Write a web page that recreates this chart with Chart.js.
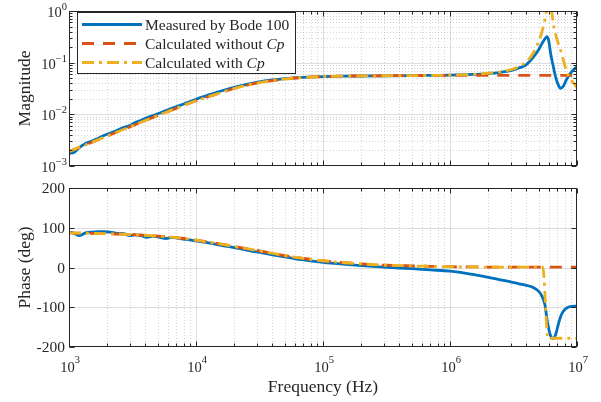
<!DOCTYPE html>
<html>
<head>
<meta charset="utf-8">
<script src="https://cdn.jsdelivr.net/npm/chart.js@4.4.0/dist/chart.umd.min.js"></script>
<style>
html, body { margin: 0; padding: 0; background: #fff; }
#wrap { position: relative; width: 601px; height: 402px; }
#magBox { position: absolute; left: 0; top: 0; }
#phBox { position: absolute; left: 0; top: 178px; }
</style>
</head>
<body>
<div id="wrap">
  <div id="magBox"><canvas id="mag" width="601" height="178"></canvas></div>
  <div id="phBox"><canvas id="ph" width="601" height="224"></canvas></div>
</div>
<script>
// measured (Bode 100)
var freqMeas = [1000, 1100, 1200, 1350, 1500, 1700, 1900, 2100, 2400, 2700, 3000, 3300, 3700, 4100, 4600, 5200, 5800, 6500, 7300, 8200, 9200,
    1e4, 1.2e4, 1.4e4, 1.7e4, 2e4, 2.5e4, 3e4, 4e4, 5e4, 7e4, 1e5, 1.5e5, 2e5, 3e5, 5e5, 7e5, 1e6, 1.5e6, 2e6, 2.5e6, 3e6, 3.5e6, 4e6,
    4.5e6, 5e6, 5.3e6, 5.6e6, 5.8e6, 6e6, 6.2e6, 6.5e6, 6.8e6, 7.1e6, 7.4e6, 7.8e6, 8.3e6, 9e6, 1e7];
var magMeas = [0.00175, 0.00185, 0.00225, 0.00272, 0.00300, 0.00345, 0.00395, 0.00430, 0.00492, 0.00560, 0.00605, 0.00690, 0.00765, 0.00860,
    0.00950, 0.01060, 0.01180, 0.01320, 0.01460, 0.01620, 0.01800, 0.01960, 0.02280, 0.02590, 0.02990, 0.03340, 0.03800, 0.04150, 0.04620,
    0.04900, 0.05200, 0.05380, 0.05480, 0.05520, 0.05560, 0.05620, 0.05680, 0.05750, 0.05920, 0.06150, 0.06500, 0.07000, 0.07900, 0.09200,
    0.125, 0.180, 0.235, 0.290, 0.320, 0.260, 0.150, 0.085, 0.052, 0.038, 0.032, 0.035, 0.048, 0.065, 0.084];
var phaseMeas = [89, 86, 80, 87, 89, 90, 90, 89, 86, 85, 80, 82, 80, 76, 79, 76, 73, 76, 73, 71, 69,
    67, 63, 59, 54, 50, 44, 39, 32, 27, 19, 13, 8, 5, 1, -3, -6, -9, -17, -25, -31, -36, -41, -45,
    -50, -60, -72, -95, -130, -155, -172, -179, -168, -145, -125, -110, -102, -98, -97];

// calculated models
var freqCalc = [1000, 1500, 2000, 3000, 5000, 7000, 1e4, 1.5e4, 2e4, 3e4, 5e4, 7e4, 1e5, 1.5e5, 2e5, 3e5, 5e5, 7e5, 1e6, 1.5e6,
    2e6, 2.5e6, 3e6, 3.5e6, 4e6, 4.5e6, 5e6, 5.2e6, 5.4e6, 5.5e6, 5.6e6, 5.8e6, 5.9e6, 6e6, 6.1e6, 6.3e6, 6.6e6, 7e6, 7.4e6, 8e6, 8.5e6, 9e6, 1e7];
var magNoCp = [0.0019, 0.00285, 0.0038, 0.0057, 0.0095, 0.0131, 0.0183, 0.0253, 0.0316, 0.0400, 0.0482, 0.0517, 0.0538, 0.0550, 0.0555,
    0.0558, 0.0562, 0.0565, 0.0567, 0.0568, 0.0569, 0.057, 0.057, 0.057, 0.057, 0.057, 0.057, 0.057, 0.057, 0.057, 0.057, 0.057, 0.057,
    0.057, 0.057, 0.057, 0.057, 0.057, 0.057, 0.057, 0.057, 0.057, 0.057];
var magCp = [0.0019, 0.00285, 0.0038, 0.0057, 0.0095, 0.0131, 0.0183, 0.0253, 0.0316, 0.0400, 0.0482, 0.0517, 0.0538, 0.0550, 0.0555,
    0.0558, 0.0562, 0.0566, 0.0572, 0.0590, 0.0625, 0.0665, 0.0730, 0.0850, 0.1050, 0.1500, 0.26, 0.34, 0.47, 0.56, 0.70, 1.2, 2.0, 3.0,
    2.6, 1.1, 0.47, 0.27, 0.18, 0.09, 0.058, 0.046, 0.033];
var phaseNoCp = [87, 86, 85, 83, 79, 75, 69, 60, 53, 43, 30, 23, 17, 12, 9, 6, 4, 3, 2, 1.5,
    1, 1, 1, 1, 1, 1, 1, 1, 1, 1, 1, 1, 1, 1, 1, 1, 1, 1, 1, 1, 1, 1, 1];
var phaseCp = [87, 86, 85, 83, 79, 75, 69, 60, 53, 43, 30, 23, 17, 12, 9, 6, 4, 3, 2, 1.5,
    1, 1, 1, 1, 1, 1, 1, 1, 1, -25, -70, -160, -178, -178, -178, -178, -178, -178, -178, -178, -178, -178, -178];

var seriesNames = ['Measured by Bode 100', 'Calculated without ', 'Calculated with '];
var xExps = [3, 4, 5, 6, 7];
var magExps = [-3, -2, -1, 0];
var phaseTicks = [-200, -100, 0, 100, 200];

var FONT = '"Liberation Serif", "Times New Roman", serif';
var AX = '#262626';
var BLUE = '#0072BD', RED = '#D95319', YEL = '#EDB120';
var DASH = [12, 9], DASHDOT = [12, 5, 3, 5];

function pts(xs, ys) {
    var out = [];
    for (var i = 0; i < xs.length; i++) out.push({x: xs[i], y: ys[i]});
    return out;
}

function logPositions(lo, hi) {
    var out = [];
    for (var e = lo; e < hi; e++) {
        for (var m = 1; m < 10; m++) out.push({v: m * Math.pow(10, e), major: m === 1});
    }
    out.push({v: Math.pow(10, hi), major: true});
    return out;
}

function line(ctx, x1, y1, x2, y2) {
    ctx.beginPath(); ctx.moveTo(x1, y1); ctx.lineTo(x2, y2); ctx.stroke();
}

function drawPow(ctx, exp, x, y, supDy, align) {
    ctx.font = '14.5px ' + FONT;
    var wb = ctx.measureText('10').width;
    ctx.font = '10.5px ' + FONT;
    var sup = String(exp).replace('-', '\u2212');
    var ws = ctx.measureText(sup).width;
    var x0 = align === 'right' ? x - wb - ws : x - (wb + ws) / 2;
    ctx.textAlign = 'left';
    ctx.textBaseline = 'alphabetic';
    ctx.font = '14.5px ' + FONT;
    ctx.fillText('10', x0, y);
    ctx.font = '10.5px ' + FONT;
    ctx.fillText(sup, x0 + wb, y - supDy);
}

var framePlugin = {
    id: 'frame',
    beforeDatasetsDraw: function (chart, args, o) {
        var ctx = chart.ctx, a = chart.chartArea, xs = chart.scales.x, ys = chart.scales.y;
        ctx.save();
        ctx.lineWidth = 1;
        logPositions(3, 7).forEach(function (t) {
            var px = Math.round(xs.getPixelForValue(t.v)) + 0.5;
            if (px <= a.left + 1 || px >= a.right - 1) return;
            ctx.strokeStyle = t.major ? 'rgba(0,0,0,0.13)' : 'rgba(0,0,0,0.16)';
            ctx.setLineDash(t.major ? [] : [1, 2]);
            line(ctx, px, a.top, px, a.bottom);
        });
        var yPos = o.yLog ? logPositions(-3, 0) : phaseTicks.map(function (v) { return {v: v, major: true}; });
        yPos.forEach(function (t) {
            var py = Math.round(ys.getPixelForValue(t.v)) + 0.5;
            if (py <= a.top + 1 || py >= a.bottom - 1) return;
            ctx.strokeStyle = t.major ? 'rgba(0,0,0,0.13)' : 'rgba(0,0,0,0.16)';
            ctx.setLineDash(t.major ? [] : [1, 2]);
            line(ctx, a.left, py, a.right, py);
        });
        ctx.restore();
    },
    afterDatasetsDraw: function (chart, args, o) {
        var ctx = chart.ctx, a = chart.chartArea, xs = chart.scales.x, ys = chart.scales.y;
        ctx.save();
        ctx.strokeStyle = AX;
        ctx.fillStyle = AX;
        ctx.lineWidth = 1;
        ctx.setLineDash([]);
        var L = Math.round(a.left) + 0.5, R = Math.round(a.right) - 0.5;
        var T = Math.round(a.top) + 0.5, B = Math.round(a.bottom) - 0.5;
        ctx.strokeRect(L, T, R - L, B - T);
        // x ticks, bottom and top
        logPositions(3, 7).forEach(function (t) {
            var px = Math.round(xs.getPixelForValue(t.v)) + 0.5;
            var len = t.major ? 5 : 3;
            line(ctx, px, B, px, B - len);
            line(ctx, px, T, px, T + len);
        });
        // y ticks, left and right
        var yPos = o.yLog ? logPositions(-3, 0) : phaseTicks.map(function (v) { return {v: v, major: true}; });
        yPos.forEach(function (t) {
            var py = Math.round(ys.getPixelForValue(t.v)) + 0.5;
            var len = t.major ? 5 : 3;
            line(ctx, L, py, L + len, py);
            line(ctx, R, py, R - len, py);
        });
        // y tick labels
        if (o.yLog) {
            magExps.forEach(function (e) {
                var py = ys.getPixelForValue(Math.pow(10, e));
                drawPow(ctx, e, 67, py + 6, 7, 'right');
            });
        } else {
            ctx.font = '15.5px ' + FONT;
            ctx.textAlign = 'right';
            ctx.textBaseline = 'middle';
            phaseTicks.forEach(function (v) {
                ctx.fillText(String(v), 65, ys.getPixelForValue(v) + 1);
            });
        }
        // x tick labels
        if (o.xLabels) {
            xExps.forEach(function (e) {
                var px = xs.getPixelForValue(Math.pow(10, e));
                drawPow(ctx, e, px + 1, a.bottom + 25, 9, 'center');
            });
            ctx.font = '17.5px ' + FONT;
            ctx.textAlign = 'center';
            ctx.textBaseline = 'alphabetic';
            ctx.fillText(o.xTitle, (a.left + a.right) / 2, a.bottom + 45);
        }
        // y title
        ctx.save();
        ctx.translate(30, (a.top + a.bottom) / 2);
        ctx.rotate(-Math.PI / 2);
        ctx.font = '17.5px ' + FONT;
        ctx.textAlign = 'center';
        ctx.textBaseline = 'alphabetic';
        ctx.fillText(o.yTitle, 0, 0);
        ctx.restore();
        ctx.restore();
    }
};

var legendPlugin = {
    id: 'boxLegend',
    afterDatasetsDraw: function (chart, args, o) {
        if (!o.show) return;
        var ctx = chart.ctx;
        ctx.save();
        ctx.fillStyle = '#fff';
        ctx.fillRect(77.5, 12.5, 218, 61);
        ctx.strokeStyle = AX;
        ctx.lineWidth = 1;
        ctx.strokeRect(77.5, 12.5, 218, 61);
        var rows = [
            {c: BLUE, d: [], name: seriesNames[0], it: ''},
            {c: RED, d: DASH, name: seriesNames[1], it: 'Cp'},
            {c: YEL, d: DASHDOT, name: seriesNames[2], it: 'Cp'}
        ];
        rows.forEach(function (r, i) {
            var y = 24.5 + i * 19;
            ctx.strokeStyle = r.c;
            ctx.lineWidth = 2.8;
            ctx.setLineDash(r.d);
            line(ctx, 82, y, 142, y);
            ctx.setLineDash([]);
            ctx.fillStyle = AX;
            ctx.textAlign = 'left';
            ctx.textBaseline = 'middle';
            ctx.font = '15.5px ' + FONT;
            ctx.fillText(r.name, 145, y + 1);
            if (r.it) {
                var w = ctx.measureText(r.name).width;
                ctx.font = 'italic 15.5px ' + FONT;
                ctx.fillText(r.it, 145 + w, y + 1);
            }
        });
        ctx.restore();
    }
};

function ds(label, data, color, dash, order) {
    return {
        label: label, data: data, borderColor: color, backgroundColor: color,
        borderWidth: 2.8, borderDash: dash, pointRadius: 0, fill: false,
        cubicInterpolationMode: 'monotone', borderCapStyle: 'butt', borderJoinStyle: 'round',
        order: order, clip: 0
    };
}

function baseOptions(yScale, padding, frame, showLegend) {
    return {
        responsive: false,
        animation: false,
        events: [],
        layout: {padding: padding},
        scales: {
            x: {type: 'logarithmic', min: 1e3, max: 1e7, display: false},
            y: yScale
        },
        plugins: {
            legend: {display: false},
            tooltip: {enabled: false},
            frame: frame,
            boxLegend: {show: showLegend}
        }
    };
}

new Chart(document.getElementById('mag'), {
    type: 'line',
    data: {
        datasets: [
            ds(seriesNames[0], pts(freqMeas, magMeas), BLUE, [], 3),
            ds(seriesNames[1] + 'Cp', pts(freqCalc, magNoCp), RED, DASH, 2),
            ds(seriesNames[2] + 'Cp', pts(freqCalc, magCp), YEL, DASHDOT, 1)
        ]
    },
    options: baseOptions({type: 'logarithmic', min: 1e-3, max: 1, display: false},
        {left: 69, right: 24, top: 11, bottom: 12},
        {yLog: true, yTitle: 'Magnitude', xLabels: false}, true),
    plugins: [framePlugin, legendPlugin]
});

new Chart(document.getElementById('ph'), {
    type: 'line',
    data: {
        datasets: [
            ds(seriesNames[0], pts(freqMeas, phaseMeas), BLUE, [], 3),
            ds(seriesNames[1] + 'Cp', pts(freqCalc, phaseNoCp), RED, DASH, 2),
            ds(seriesNames[2] + 'Cp', pts(freqCalc, phaseCp), YEL, DASHDOT, 1)
        ]
    },
    options: baseOptions({type: 'linear', min: -200, max: 200, display: false},
        {left: 69, right: 24, top: 10, bottom: 55},
        {yLog: false, yTitle: 'Phase (deg)', xLabels: true, xTitle: 'Frequency (Hz)'}, false),
    plugins: [framePlugin, legendPlugin]
});
</script>
</body>
</html>
